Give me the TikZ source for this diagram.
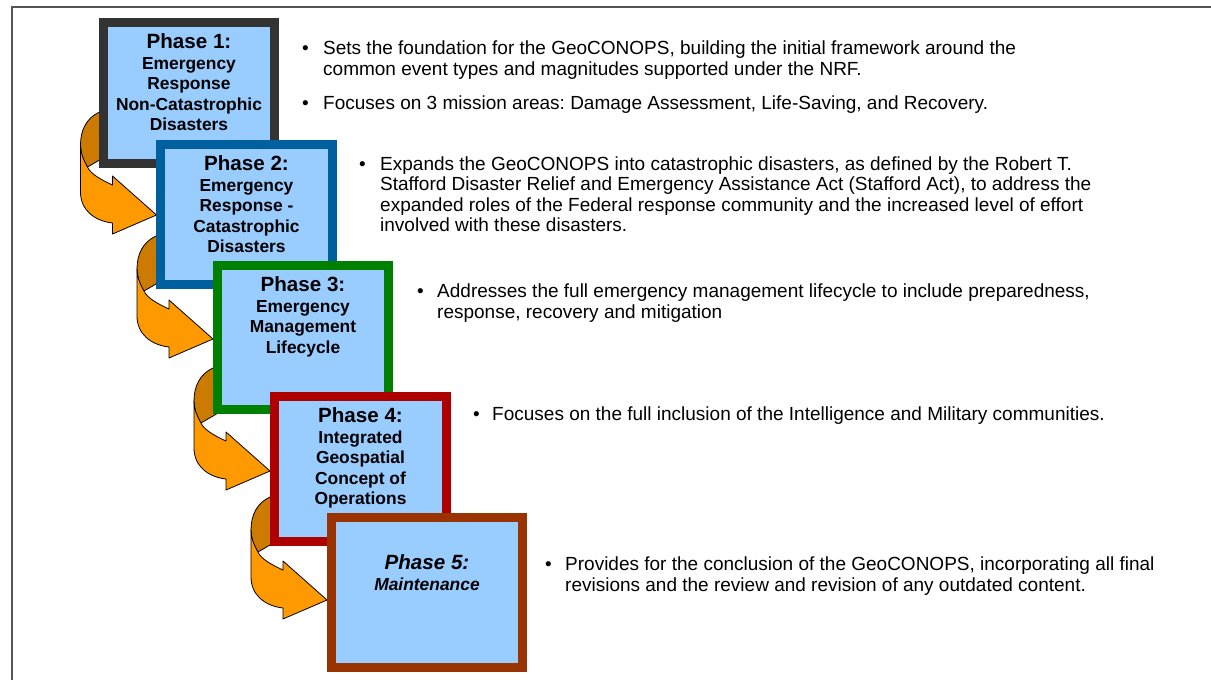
\documentclass[tikz,border=0pt]{standalone}
\usepackage{fontspec}
\setmainfont{Liberation Sans}
\usetikzlibrary{calc}
\frenchspacing
\definecolor{boxfill}{HTML}{99CCFF}
\definecolor{bA}{HTML}{333333}
\definecolor{bB}{HTML}{00609F}
\definecolor{bC}{HTML}{008000}
\definecolor{bD}{HTML}{AE0000}
\definecolor{bE}{HTML}{993300}
\definecolor{arrlight}{HTML}{FF9900}
\definecolor{arrdark}{HTML}{CC7A00}
\definecolor{framegray}{HTML}{555555}
\begin{document}
\begin{tikzpicture}[x=1pt,y=-1pt,
  phasebox/.style={draw=#1, line width=9pt, fill=boxfill, inner sep=0pt, outer sep=0pt},
  phasetitle/.style={anchor=base, inner sep=0pt, font=\fontsize{20.6}{22}\selectfont\bfseries},
  phaseline/.style={anchor=base, inner sep=0pt, font=\fontsize{17.4}{20}\selectfont\bfseries},
  bul/.style={anchor=base west, inner sep=0pt, font=\fontsize{19}{21}\selectfont},
  bodyline/.style={anchor=base west, inner sep=0pt, font=\fontsize{19}{21}\selectfont},
  arrowlight/.style={fill=arrlight, draw=black, line width=0.8pt, line join=round},
  arrowdark/.style={fill=arrdark, draw=black, line width=0.8pt, line join=round},
  curl/.pic={
    \path[arrowdark] (-57,-103) .. controls (-70,-97) and (-76,-85) .. (-76,-70)
      .. controls (-75,-58) .. (-69,-48) -- (-45,-62) -- (-45,-103) -- cycle;
    \path[arrowlight] (-76,-70) -- (-76,-23) .. controls (-76,-5) and (-62,6) .. (-44,8)
      -- (-44,19) -- (0,0) -- (-44,-39) -- (-44,-30)
      .. controls (-55,-35) and (-66,-41) .. (-69,-48)
      .. controls (-73,-55) and (-76,-62) .. (-76,-70) -- cycle;
  }
]
\useasboundingbox (0,0) rectangle (1211,680);
\draw[framegray, line width=2pt] (12,682) -- (12,7) -- (1213,7);

% arrows
\coordinate (t1) at (156.5,215);
\coordinate (t2) at (213,339);
\coordinate (t3) at (270,471);
\coordinate (t4) at (327,600);
\pic at (t1) {curl};
\pic at (t2) {curl};
\pic at (t3) {curl};
\pic at (t4) {curl};

% box 1
\node[phasebox=bA, minimum width=171pt, minimum height=141pt] (b1) at (189,93) {};
\node[phasetitle] (b1t) at (189,48) {Phase 1:};
\node[phaseline] (b1l1) at (189,69) {Emergency};
\node[phaseline] (b1l2) at (189,89.5) {Response};
\node[phaseline] (b1l3) at (189,110) {Non-Catastrophic};
\node[phaseline] (b1l4) at (189,130.5) {Disasters};
% box 2
\node[phasebox=bB, minimum width=172pt, minimum height=140pt] (b2) at (246.5,214.5) {};
\node[phasetitle] (b2t) at (246.5,170) {Phase 2:};
\node[phaseline] (b2l1) at (246.5,191) {Emergency};
\node[phaseline] (b2l2) at (246.5,211.5) {Response -};
\node[phaseline] (b2l3) at (246.5,232) {Catastrophic};
\node[phaseline] (b2l4) at (246.5,252.5) {Disasters};
% box 3
\node[phasebox=bC, minimum width=171pt, minimum height=144pt] (b3) at (303,337.5) {};
\node[phasetitle] (b3t) at (303,291) {Phase 3:};
\node[phaseline] (b3l1) at (303,312) {Emergency};
\node[phaseline] (b3l2) at (303,332.5) {Management};
\node[phaseline] (b3l3) at (303,353) {Lifecycle};
% box 4
\node[phasebox=bD, minimum width=172pt, minimum height=145pt] (b4) at (360.5,469) {};
\node[phasetitle] (b4t) at (360.5,422) {Phase 4:};
\node[phaseline] (b4l1) at (360.5,443) {Integrated};
\node[phaseline] (b4l2) at (360.5,463.5) {Geospatial};
\node[phaseline] (b4l3) at (360.5,484) {Concept of};
\node[phaseline] (b4l4) at (360.5,504.5) {Operations};
% box 5
\node[phasebox=bE, minimum width=191pt, minimum height=150pt] (b5) at (427,592.5) {};
\node[phasetitle, font=\fontsize{20.6}{22}\selectfont\bfseries\itshape] (b5t) at (427,569.5) {Phase 5:};
\node[phaseline, font=\fontsize{17.4}{20}\selectfont\bfseries\itshape] (b5l1) at (427,590) {Maintenance};

% right texts
\node[bul] (u1) at (302,54) {•};
\node[bodyline] (p1a) at (323,54) {Sets the foundation for the GeoCONOPS, building the initial framework around the};
\node[bodyline] (p1b) at (323,75.5) {common event types and magnitudes supported under the NRF.};
\node[bul] (u2) at (302,109) {•};
\node[bodyline] (p2a) at (323,109) {Focuses on 3 mission areas: Damage Assessment, Life-Saving, and Recovery.};

\node[bul] (u3) at (359,170) {•};
\node[bodyline] (p3a) at (380,170) {Expands the GeoCONOPS into catastrophic disasters, as defined by the Robert T.};
\node[bodyline] (p3b) at (380,190.5) {Stafford Disaster Relief and Emergency Assistance Act (Stafford Act), to address the};
\node[bodyline] (p3c) at (380,211) {expanded roles of the Federal response community and the increased level of effort};
\node[bodyline] (p3d) at (380,231.5) {involved with these disasters.};

\node[bul] (u4) at (417,297.5) {•};
\node[bodyline] (p4a) at (437,297.5) {Addresses the full emergency management lifecycle to include preparedness,};
\node[bodyline] (p4b) at (437,318.5) {response, recovery and mitigation};

\node[bul] (u5) at (473,420) {•};
\node[bodyline] (p5a) at (492,420) {Focuses on the full inclusion of the Intelligence and Military communities.};

\node[bul] (u6) at (545,570.5) {•};
\node[bodyline] (p6a) at (565,570.5) {Provides for the conclusion of the GeoCONOPS, incorporating all final};
\node[bodyline] (p6b) at (565,591.5) {revisions and the review and revision of any outdated content.};
\end{tikzpicture}
\end{document}
